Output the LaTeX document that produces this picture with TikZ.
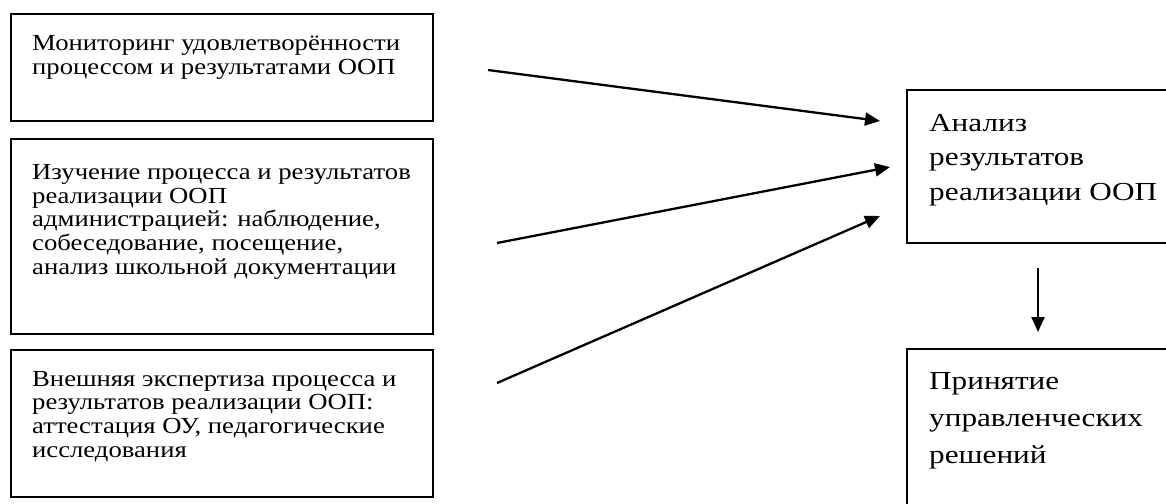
\documentclass[tikz,border=0pt]{standalone}
\usepackage{fontspec}
\setmainfont[FakeStretch=1.16]{Liberation Serif}
\newfontfamily\widefont[FakeStretch=1.2]{Liberation Serif}
\usetikzlibrary{arrows.meta,calc}
\newcommand{\lefttext}[1]{\parbox[t]{420pt}{\fontsize{23}{23.7}\selectfont\lineskiplimit=-100pt #1}}
\newcommand{\righttext}[2]{\parbox[t]{260pt}{\widefont\fontsize{26}{#1}\selectfont\lineskiplimit=-100pt #2}}
\begin{document}
\begin{tikzpicture}[x=1pt,y=-1pt,
  box/.style={draw,line width=2pt,rectangle,inner sep=0pt,anchor=north west},
  txt/.style={anchor=base west,inner sep=0pt},
  arr/.style={line width=2.3pt,-{Triangle[length=15pt,width=13pt]}}]
\useasboundingbox (0,0) rectangle (1166,503);
\clip (0,0) rectangle (1166,503);
% left boxes
\node[box,minimum width=422pt,minimum height=107pt] (b1) at (10,13) {};
\node[box,minimum width=422pt,minimum height=195pt] (b2) at (10,138) {};
\node[box,minimum width=422pt,minimum height=147pt] (b3) at (10,349) {};
\node[txt] (t1) at (32,50.5) {\lefttext{Мониторинг удовлетворённости\\процессом и результатами ООП}};
\node[txt] (t2) at (32,179.5) {\lefttext{Изучение процесса и результатов\\реализации ООП\\администрацией: наблюдение,\\собеседование, посещение,\\анализ школьной документации}};
\node[txt] (t3) at (32,386) {\lefttext{Внешняя экспертиза процесса и\\результатов реализации ООП:\\аттестация ОУ, педагогические\\исследования}};
% right boxes (cut by the page edge)
\node[box,minimum width=300pt,minimum height=153pt] (r1) at (906,89) {};
\node[box,minimum width=300pt,minimum height=200pt] (r2) at (906,348) {};
\node[txt] (rt1) at (929,131) {\righttext{34.5}{Анализ\\результатов\\реализации ООП}};
\node[txt] (rt2) at (929,389) {\righttext{37}{Принятие\\управленческих\\решений}};
% arrows
\coordinate (a1s) at (488,70);  \coordinate (a1e) at (880,121);
\coordinate (a2s) at (497,243); \coordinate (a2e) at (890,167);
\coordinate (a3s) at (497,383); \coordinate (a3e) at (880,216);
\coordinate (d1s) at (1038,268); \coordinate (d1e) at (1038,332);
\draw[arr] (a1s) -- (a1e);
\draw[arr] (a2s) -- (a2e);
\draw[arr] (a3s) -- (a3e);
\draw[arr] (d1s) -- (d1e);
\end{tikzpicture}
\end{document}
